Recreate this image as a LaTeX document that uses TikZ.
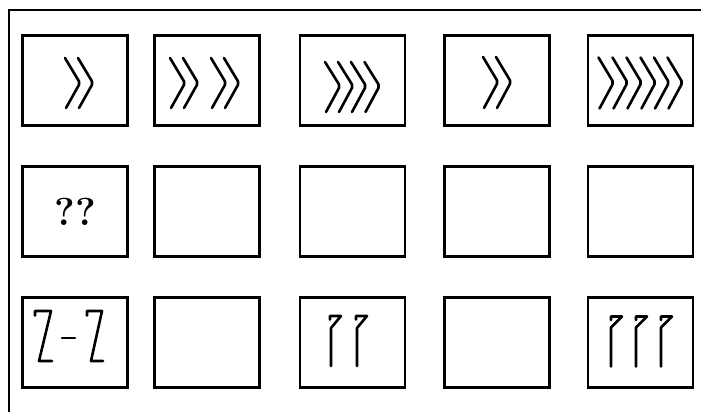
\documentclass[tikz,border=0pt]{standalone}
\usepackage{fontspec}
\usetikzlibrary{calc}

\begin{document}
\begin{tikzpicture}[
  x=1pt, y=-1pt,
  %% square answer cell
  cell/.style={
    draw, line width=2.6pt,
    minimum width=105pt, minimum height=90pt,
    inner sep=0pt, font=\fontsize{39}{39}\selectfont
  },
  %% stroke of a hand-drawn sign
  sign/.style={line width=2.6pt, line cap=round, line join=round},
  %% one chevron pointing right
  chev/.style={sign, rounded corners=2pt},
  frame/.style={line width=2.2pt},
]
\useasboundingbox (0,0) rectangle (701,412);

%%── Open frame (top and left edge) ───────────────────────────────────────────
\coordinate (fbot) at (9,412);
\coordinate (fcor) at (9,10);
\coordinate (frgt) at (701,10);
\draw[frame] (fbot) -- (fcor) -- (frgt);

%%── Row 1 ────────────────────────────────────────────────────────────────────
\node[cell] (c11) at (75,80.5)    {};
\node[cell] (c12) at (207,80.5)   {};
\node[cell] (c13) at (352.5,80.5) {};
\node[cell] (c14) at (497,80.5)   {};
\node[cell] (c15) at (640.5,80.5) {};

%%── Row 2 ────────────────────────────────────────────────────────────────────
\node[cell] (c21) at (75,211.5)    {\textbf{??}};
\node[cell] (c22) at (207,211.5)   {};
\node[cell] (c23) at (352.5,211.5) {};
\node[cell] (c24) at (497,211.5)   {};
\node[cell] (c25) at (640.5,211.5) {};

%%── Row 3 ────────────────────────────────────────────────────────────────────
\node[cell] (c31) at (75,342.5)    {};
\node[cell] (c32) at (207,342.5)   {};
\node[cell] (c33) at (352.5,342.5) {};
\node[cell] (c34) at (497,342.5)   {};
\node[cell] (c35) at (640.5,342.5) {};

%%══════════════════════════════════════════════════════════════════════════════
%%  Chevrons in row 1
%%══════════════════════════════════════════════════════════════════════════════
\foreach \dx in {-10,3}
  \draw[chev] ($(c11.center)+(\dx,-22.5)$) -- ++(15,25) -- ++(-14,25);
\foreach \dx in {-37,-24,4,17}
  \draw[chev] ($(c12.center)+(\dx,-22.5)$) -- ++(15,25) -- ++(-14,25);
\foreach \dx in {-27.5,-14.5,-1.5,12}
  \draw[chev] ($(c13.center)+(\dx,-18.5)$) -- ++(15,24) -- ++(-14,26);
\foreach \dx in {-14,-1}
  \draw[chev] ($(c14.center)+(\dx,-23.5)$) -- ++(15,25) -- ++(-14,26);
\foreach \dx in {-42,-28,-14,0,13.5,27}
  \draw[chev] ($(c15.center)+(\dx,-23)$) -- ++(15,25) -- ++(-14,26);

%%══════════════════════════════════════════════════════════════════════════════
%%  Signs in row 3
%%══════════════════════════════════════════════════════════════════════════════
%% Z - Z
\draw[sign] ($(c31.center)+(-40,-27)$) -- ++(0,-4.5) -- ++(16,0)
  -- ++(-12,50) -- ++(13,0);
\draw[sign] ($(c31.center)+(-13,-4.5)$) -- ++(13,0);
\draw[sign] ($(c31.center)+(12,-27)$) -- ++(0,-4.5) -- ++(15,0)
  -- ++(-11,50) -- ++(12,0);

%% two hooked stems
\foreach \dx in {-22.5,3.5}
  \draw[sign] ($(c33.center)+(\dx,-23)$) -- ++(0,-3.5) -- ++(11,0)
    -- ++(-10,12) -- ++(0,38);

%% three hooked stems
\foreach \dx in {-29.5,-4.5,20.5}
  \draw[sign] ($(c35.center)+(\dx,-22.5)$) -- ++(0,-3.5) -- ++(11,0)
    -- ++(-11,11) -- ++(0,39);

\end{tikzpicture}
\end{document}
